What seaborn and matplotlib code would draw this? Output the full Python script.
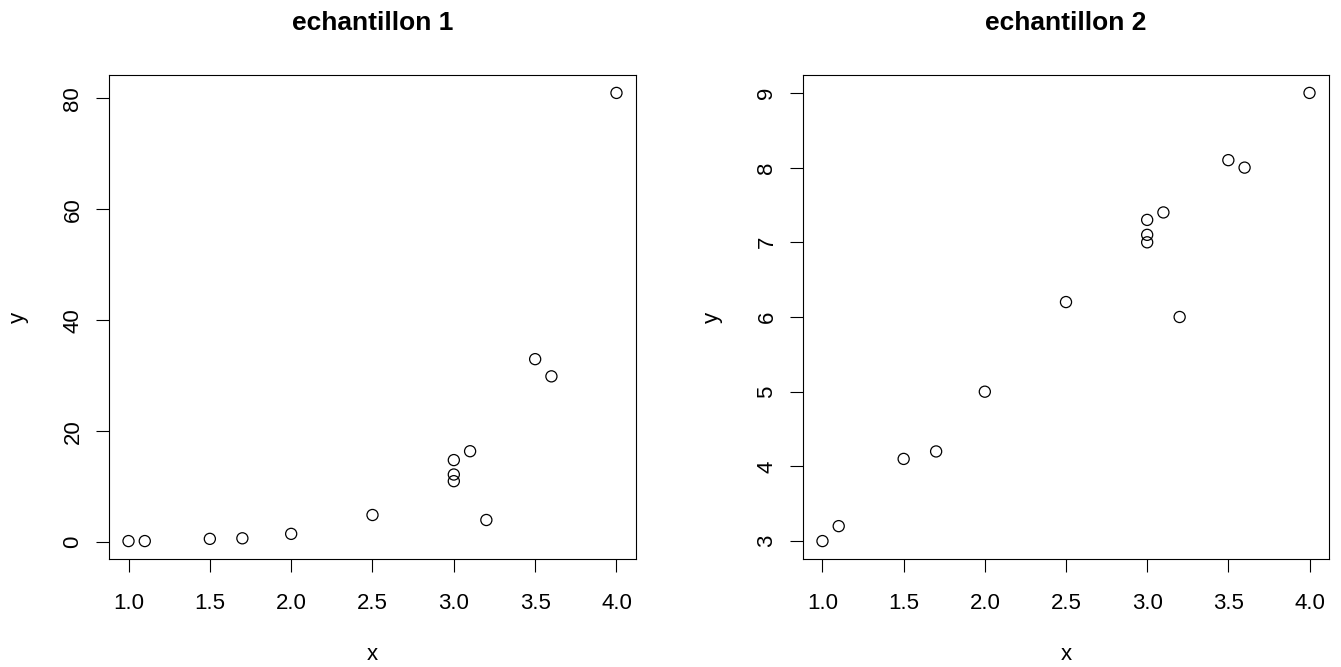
import matplotlib
matplotlib.use("Agg")
import matplotlib.pyplot as plt
import seaborn as sns
import numpy as np

x_vals = [1.0, 1.1, 1.5, 1.7, 2.0, 2.5, 3.0, 3.0, 3.0, 3.1, 3.2, 3.5, 3.6, 4.0]
y_ech1 = [0.2, 0.2, 0.6, 0.7, 1.5, 4.9, 14.8, 12.2, 11.0, 16.4, 4.0, 33.0, 29.9, 81.0]
y_ech2 = [3.0, 3.2, 4.1, 4.2, 5.0, 6.2, 7.3, 7.1, 7.0, 7.4, 6.0, 8.1, 8.0, 9.0]
titles = ["echantillon 1", "echantillon 2"]
xticks = [1.0, 1.5, 2.0, 2.5, 3.0, 3.5, 4.0]
yticks1 = [0, 20, 40, 60, 80]
yticks2 = [3, 4, 5, 6, 7, 8, 9]

sns.set_style("white")
plt.rcParams['font.family'] = ['Liberation Sans', 'DejaVu Sans']
plt.rcParams['text.color'] = 'black'
plt.rcParams['axes.labelcolor'] = 'black'

W, H = 1341, 667
fig = plt.figure(figsize=(W / 100, H / 100), dpi=100)

boxes = [(109, 75, 636, 559), (803, 75, 1329, 559)]
series = [y_ech1, y_ech2]
ytick_sets = [yticks1, yticks2]

def rlim(v):
    lo, hi = min(v), max(v)
    d = (hi - lo) * 0.04
    return lo - d, hi + d

FS = 16
for (x0, y0, x1, y1), ys, yt, title in zip(boxes, series, ytick_sets, titles):
    ax = fig.add_axes([x0 / W, 1 - y1 / H, (x1 - x0) / W, (y1 - y0) / H])
    sns.scatterplot(x=x_vals, y=ys, ax=ax, s=64, marker='o',
                    facecolors='none', edgecolor='black', linewidth=0.9)
    ax.set_xlim(*rlim(x_vals))
    ax.set_ylim(*rlim(ys))
    ax.set_xticks(xticks)
    ax.set_xticklabels([f"{t:.1f}" for t in xticks])
    ax.set_yticks(yt)
    ax.set_yticklabels([str(t) for t in yt], rotation=90, va='center')
    ax.tick_params(axis='both', direction='out', length=9.4, width=0.8,
                   labelsize=FS, colors='black', bottom=True, left=True)
    ax.tick_params(axis='x', pad=15)
    ax.tick_params(axis='y', pad=9)
    for sp in ax.spines.values():
        sp.set_visible(True)
        sp.set_color('black')
        sp.set_linewidth(0.8)
    ax.set_xlabel("x", fontsize=FS, labelpad=22)
    ax.set_ylabel("y", fontsize=FS, labelpad=24)
    ax.set_title(title, fontsize=19, fontweight='bold', pad=32.4)

fig.savefig("out.png", dpi=100, facecolor='white')
